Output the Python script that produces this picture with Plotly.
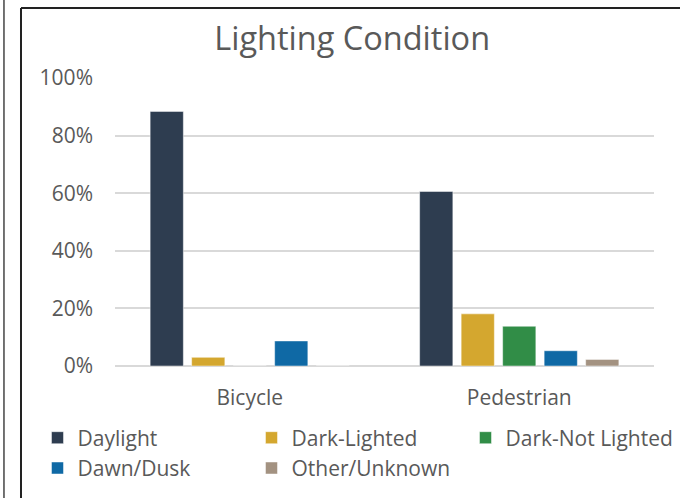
import plotly.graph_objects as go

categories = ['Bicycle', 'Pedestrian']
series_names = ['Daylight', 'Dark-Lighted', 'Dark-Not Lighted', 'Dawn/Dusk', 'Other/Unknown']
daylight = [0.884, 0.606]
dark_lighted = [0.030, 0.181]
dark_not_lighted = [0.0, 0.138]
dawn_dusk = [0.087, 0.053]
other_unknown = [0.0, 0.023]
tick_vals = [0, 0.2, 0.4, 0.6, 0.8, 1.0]
tick_text = ['0%', '20%', '40%', '60%', '80%', '100%']

colors = ['#2E3D50', '#D4A72F', '#318D47', '#0F69A5', '#A39281']
font_family = 'Open Sans'
text_color = '#595959'

fig = go.Figure()
for name, values, color in zip(series_names,
                               [daylight, dark_lighted, dark_not_lighted, dawn_dusk, other_unknown],
                               colors):
    fig.add_trace(go.Bar(
        name=name,
        x=categories,
        y=values,
        marker=dict(color=color, line=dict(color='rgba(255,255,255,0.6)', width=0.8)),
    ))

fig.update_layout(
    width=680,
    height=498,
    margin=dict(l=115, r=26, t=78, b=132, autoexpand=False),
    paper_bgcolor='white',
    plot_bgcolor='white',
    barmode='group',
    bargap=0.23,
    bargroupgap=0.2,
    font=dict(family=font_family, color=text_color, size=21),
    title=dict(text='Lighting Condition', x=0.44, xref='paper', xanchor='center',
               y=0.922, yanchor='middle', font=dict(size=32.5, color=text_color)),
    showlegend=True,
    legend=dict(
        orientation='h',
        x=-0.1438, xanchor='left',
        y=-0.179, yanchor='top',
        entrywidth=169,
        traceorder='normal',
        font=dict(size=21, color=text_color),
        itemclick=False,
    ),
    xaxis=dict(
        showline=False,
        ticks='',
        ticklabelstandoff=17,
        tickfont=dict(size=21, color=text_color),
    ),
    yaxis=dict(
        range=[0, 1.0],
        tickvals=tick_vals,
        ticktext=tick_text,
        showgrid=True,
        gridcolor='#D9D9D9',
        gridwidth=1.5,
        zeroline=True,
        zerolinecolor='#D9D9D9',
        zerolinewidth=1.5,
        ticks='',
        ticklabelstandoff=21,
        tickfont=dict(size=21, color=text_color),
    ),
    shapes=[
        dict(type='line', xref='paper', yref='paper', x0=-0.1744, x1=1.2, y0=1.243, y1=1.243,
             line=dict(color='#222222', width=2)),
        dict(type='line', xref='paper', yref='paper', x0=-0.1744, x1=-0.1744, y0=1.243, y1=-0.6,
             line=dict(color='#222222', width=2)),
        dict(type='line', xref='paper', yref='paper', x0=-0.2060, x1=-0.2060, y0=1.3, y1=-0.6,
             line=dict(color='#444444', width=1.5)),
    ],
)

# page body has a default 8px margin; drop it so the figure sits at the window corner
fig.write_html('out.html', config={'displayModeBar': False},
               post_script="document.body.style.margin='0px';")
